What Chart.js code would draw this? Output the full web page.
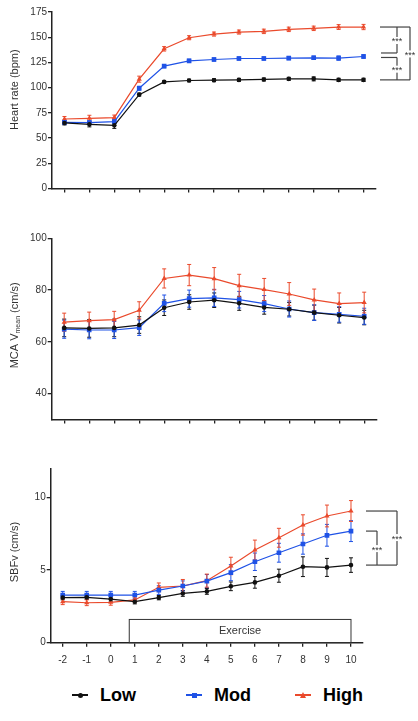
<!DOCTYPE html>
<html>
<head>
<meta charset="utf-8">
<script src="https://cdn.jsdelivr.net/npm/chart.js@4.4.1/dist/chart.umd.min.js"></script>
<style>
  body { margin: 0; background: #fff; }
  #page { position: relative; width: 418px; height: 721px; font-family: "Liberation Sans", Arial, sans-serif; }
  .panel { position: absolute; left: 0; width: 418px; }
  .item { position: absolute; top: 684px; height: 22px; display: flex; align-items: center; }
  .swatch { position: relative; width: 16px; height: 2px; margin-right: 12px; }
  .swatch i { position: absolute; left: 50%; top: 50%; }
  .item b { font-size: 18px; color: #000; }
</style>
</head>
<body>
<div id="page">
  <div class="panel" style="top:0;height:200px"><canvas id="hr"></canvas></div>
  <div class="panel" style="top:210px;height:220px"><canvas id="mca"></canvas></div>
  <div class="panel" style="top:440px;height:235px"><canvas id="sbf"></canvas></div>

  <div class="item" style="left:72px">
    <span class="swatch" style="background:#111"><i style="width:5px;height:5px;margin:-2.5px 0 0 -2.5px;border-radius:50%;background:#111"></i></span><b>Low</b>
  </div>
  <div class="item" style="left:186px">
    <span class="swatch" style="background:#1f52e6"><i style="width:5px;height:5px;margin:-2.5px 0 0 -2.5px;background:#1f52e6"></i></span><b>Mod</b>
  </div>
  <div class="item" style="left:295px">
    <span class="swatch" style="background:#ea4a2c"><i style="width:0;height:0;margin:-3.5px 0 0 -3.5px;border-left:3.5px solid transparent;border-right:3.5px solid transparent;border-bottom:6px solid #ea4a2c"></i></span><b>High</b>
  </div>
</div>
<script>
// time points (min)
var timeLabels = ['-2', '-1', '0', '1', '2', '3', '4', '5', '6', '7', '8', '9', '10'];

// heart rate (bpm)
var hrLow = [65, 63.6, 62.6, 93.1, 105.7, 107.1, 107.4, 107.7, 108.1, 108.7, 108.7, 107.7, 107.7];
var hrMod = [65.6, 65.3, 66.3, 99.4, 121.3, 126.6, 127.9, 128.9, 128.9, 129.3, 129.6, 129.3, 130.9];
var hrHigh = [68.9, 69.6, 70.3, 108.4, 138.5, 149.5, 153.1, 155.1, 155.8, 157.8, 158.8, 160.1, 160.1];
var hrLowErr = [2, 2.5, 3, 1.5, 1, 1.3, 1.5, 1.5, 1.5, 1.5, 2, 1.6, 1.6];
var hrModErr = [2.2, 2, 2, 2, 1.6, 1.6, 1.6, 1.6, 1.6, 1.6, 1.7, 2.1, 1.8];
var hrHighErr = [2.5, 3, 2.5, 3, 2.2, 2, 2, 2, 2.2, 2.2, 2.2, 2.4, 2.6];
var hrTicks = [0, 25, 50, 75, 100, 125, 150, 175];

// MCA Vmean (cm/s)
var mcaLow = [65.4, 65.2, 65.4, 66.5, 73.2, 75.4, 76.1, 74.9, 73.3, 72.6, 71.3, 70.3, 69.4];
var mcaMod = [64.9, 64.6, 64.6, 65.5, 74.9, 76.7, 77.0, 76.3, 74.8, 72.7, 71.3, 70.6, 69.9];
var mcaHigh = [67.6, 68.2, 68.6, 72.2, 84.5, 85.8, 84.4, 81.7, 80.2, 78.5, 76.2, 74.8, 75.2];
var mcaLowErr = [3.4, 3.4, 3.4, 3.2, 3.0, 2.8, 2.8, 2.7, 2.6, 2.6, 2.9, 3.0, 2.8];
var mcaModErr = [3.5, 3.4, 3.3, 3.0, 3.2, 3.3, 3.3, 3.2, 3.1, 3.1, 3.0, 3.0, 3.1];
var mcaHighErr = [3.5, 3.3, 3.2, 3.3, 3.7, 4.1, 4.3, 4.4, 4.3, 4.4, 4.2, 4.1, 4.0];
var mcaTicks = [40, 60, 80, 100];

// SBFv (cm/s)
var sbfLow = [3.10, 3.12, 3.00, 2.82, 3.10, 3.39, 3.53, 3.88, 4.15, 4.61, 5.23, 5.18, 5.34];
var sbfMod = [3.28, 3.28, 3.28, 3.28, 3.62, 3.90, 4.24, 4.82, 5.57, 6.19, 6.79, 7.39, 7.68];
var sbfHigh = [2.82, 2.75, 2.78, 2.94, 3.81, 3.90, 4.27, 5.28, 6.38, 7.22, 8.10, 8.72, 9.06];
var sbfLowErr = [0.15, 0.15, 0.15, 0.15, 0.15, 0.2, 0.2, 0.3, 0.4, 0.45, 0.68, 0.62, 0.5];
var sbfModErr = [0.25, 0.25, 0.25, 0.25, 0.3, 0.35, 0.45, 0.55, 0.6, 0.65, 0.7, 0.75, 0.72];
var sbfHighErr = [0.2, 0.2, 0.2, 0.15, 0.3, 0.45, 0.45, 0.6, 0.68, 0.65, 0.7, 0.75, 0.72];
var sbfTicks = [0, 5, 10];

// exercise period (min) and box height (cm/s)
var exercisePeriod = [0.77, 10];
var exerciseTop = 1.6;

var FONT = '"Liberation Sans", Arial, sans-serif';
var INK = '#222';
var LOW = '#111', MOD = '#1f52e6', HIGH = '#ea4a2c';

function series(low, mod, high, lowErr, modErr, highErr) {
  return [
    { label: 'Low', data: low, errors: lowErr, borderColor: LOW, backgroundColor: LOW, pointStyle: 'circle', pointRadius: 2.3 },
    { label: 'Mod', data: mod, errors: modErr, borderColor: MOD, backgroundColor: MOD, pointStyle: 'rect', pointRadius: 3.3 },
    { label: 'High', data: high, errors: highErr, borderColor: HIGH, backgroundColor: HIGH, pointStyle: 'triangle', pointRadius: 3 }
  ].map(function (d) {
    d.borderWidth = 1.2;
    d.tension = 0;
    d.pointBorderWidth = 0;
    return d;
  });
}

// vertical SEM bars behind each line
var errorBars = {
  id: 'errorBars',
  beforeDatasetsDraw: function (chart) {
    var ctx = chart.ctx, y = chart.scales.y;
    ctx.save();
    chart.data.datasets.forEach(function (ds, i) {
      var meta = chart.getDatasetMeta(i);
      ctx.strokeStyle = ds.borderColor;
      ctx.lineWidth = 1;
      ds.data.forEach(function (v, j) {
        var x = meta.data[j].x;
        var t = y.getPixelForValue(v + ds.errors[j]);
        var b = y.getPixelForValue(v - ds.errors[j]);
        ctx.beginPath();
        ctx.moveTo(x, t); ctx.lineTo(x, b);
        ctx.moveTo(x - 2, t); ctx.lineTo(x + 2, t);
        ctx.moveTo(x - 2, b); ctx.lineTo(x + 2, b);
        ctx.stroke();
      });
    });
    ctx.restore();
  }
};

function axisTitle(parts, frac) {
  return {
    id: 'axisTitle',
    afterDraw: function (chart) {
      var ctx = chart.ctx, a = chart.chartArea;
      ctx.save();
      ctx.translate(15, a.top + (a.bottom - a.top) * frac);
      ctx.rotate(-Math.PI / 2);
      ctx.fillStyle = '#333';
      ctx.textBaseline = 'middle';
      var total = 0;
      parts.forEach(function (p) {
        ctx.font = p.size + 'px ' + FONT;
        total += ctx.measureText(p.text).width;
      });
      var x = -total / 2;
      parts.forEach(function (p) {
        ctx.font = p.size + 'px ' + FONT;
        ctx.fillText(p.text, x, p.dy || 0);
        x += ctx.measureText(p.text).width;
      });
      ctx.restore();
    }
  };
}

function stars(ctx, x, y) {
  ctx.fillStyle = '#fff';
  ctx.fillRect(x - 6, y - 4, 12, 7);
  ctx.fillStyle = '#333';
  ctx.font = '9px ' + FONT;
  ctx.textAlign = 'center';
  ctx.textBaseline = 'middle';
  ctx.fillText('***', x, y + 1);
}

function line(ctx, x1, y1, x2, y2) {
  ctx.beginPath();
  ctx.moveTo(x1, y1);
  ctx.lineTo(x2, y2);
  ctx.stroke();
}

// High vs Mod, Mod vs Low, High vs Low
var hrBrackets = {
  id: 'hrBrackets',
  afterDraw: function (chart) {
    var ctx = chart.ctx, R = chart.chartArea.right, y = chart.scales.y;
    var n = hrLow.length - 1;
    var top = y.getPixelForValue(hrHigh[n]);
    var mid = y.getPixelForValue(hrMod[n]);
    var bot = y.getPixelForValue(hrLow[n]);
    ctx.save();
    ctx.strokeStyle = '#444';
    ctx.lineWidth = 1.2;
    line(ctx, R + 4, top, R + 34, top);
    line(ctx, R + 4, bot, R + 34, bot);
    line(ctx, R + 34, top, R + 34, bot);
    line(ctx, R + 21, top, R + 21, mid - 3.5);
    line(ctx, R + 5, mid - 3.5, R + 21, mid - 3.5);
    line(ctx, R + 5, mid + 1, R + 21, mid + 1);
    line(ctx, R + 21, mid + 1, R + 21, bot);
    stars(ctx, R + 21, (top + mid - 3.5) / 2 + 1);
    stars(ctx, R + 21, (mid + 1 + bot) / 2 + 1);
    stars(ctx, R + 34, (top + bot) / 2 + 1);
    ctx.restore();
  }
};

var sbfBrackets = {
  id: 'sbfBrackets',
  afterDraw: function (chart) {
    var ctx = chart.ctx, R = chart.chartArea.right, y = chart.scales.y;
    var n = sbfLow.length - 1;
    var top = y.getPixelForValue(sbfHigh[n]);
    var mid = y.getPixelForValue(sbfMod[n]);
    var bot = y.getPixelForValue(sbfLow[n]);
    ctx.save();
    ctx.strokeStyle = '#444';
    ctx.lineWidth = 1.2;
    line(ctx, R + 3, top, R + 34, top);
    line(ctx, R + 3, bot, R + 34, bot);
    line(ctx, R + 34, top, R + 34, bot);
    line(ctx, R + 3, mid, R + 14, mid);
    line(ctx, R + 14, mid, R + 14, bot);
    stars(ctx, R + 14, (mid + bot) / 2 + 1);
    stars(ctx, R + 34, (top + bot) / 2);
    ctx.restore();
  }
};

var exerciseBox = {
  id: 'exerciseBox',
  beforeDatasetsDraw: function (chart) {
    var ctx = chart.ctx, x = chart.scales.x, y = chart.scales.y;
    var first = Number(timeLabels[0]);
    var l = x.getPixelForValue(exercisePeriod[0] - first);
    var r = x.getPixelForValue(exercisePeriod[1] - first);
    var t = y.getPixelForValue(exerciseTop);
    var b = y.getPixelForValue(0);
    ctx.save();
    ctx.strokeStyle = '#333';
    ctx.lineWidth = 1;
    ctx.strokeRect(l, t, r - l, b - t);
    ctx.fillStyle = '#333';
    ctx.font = '11px ' + FONT;
    ctx.textAlign = 'center';
    ctx.textBaseline = 'middle';
    ctx.fillText('Exercise', (l + r) / 2, (t + b) / 2);
    ctx.restore();
  }
};

function makeChart(id, datasets, yMin, yMax, ticks, opts, plugins) {
  return new Chart(document.getElementById(id), {
    type: 'line',
    data: { labels: timeLabels, datasets: datasets },
    options: {
      responsive: true,
      maintainAspectRatio: false,
      animation: false,
      layout: { padding: opts.padding },
      plugins: { legend: { display: false }, tooltip: { enabled: false } },
      scales: {
        x: {
          offset: true,
          grid: { drawOnChartArea: false, color: INK, lineWidth: 1.3, tickLength: 4 },
          border: { color: INK, width: 1.5 },
          ticks: { display: opts.xLabels, color: '#333', padding: 8, font: { size: 10, family: FONT }, maxRotation: 0, autoSkip: false },
          afterFit: function (s) { s.height = opts.xHeight; }
        },
        y: {
          min: yMin,
          max: yMax,
          grid: { drawOnChartArea: false, color: INK, lineWidth: 1.3, tickLength: 4 },
          border: { color: INK, width: 1.5 },
          ticks: { color: '#333', padding: 1, font: { size: 10, family: FONT } },
          afterBuildTicks: function (s) { s.ticks = ticks.map(function (v) { return { value: v }; }); },
          afterFit: function (s) { s.width = opts.yWidth; }
        }
      }
    },
    plugins: [errorBars].concat(plugins)
  });
}

makeChart('hr', series(hrLow, hrMod, hrHigh, hrLowErr, hrModErr, hrHighErr), 0, 175, hrTicks,
  { padding: { top: 12, right: 42, bottom: 5.5, left: 0 }, xHeight: 6, yWidth: 52, xLabels: false },
  [hrBrackets, axisTitle([{ text: 'Heart rate (bpm)', size: 11 }], 0.44)]);

makeChart('mca', series(mcaLow, mcaMod, mcaHigh, mcaLowErr, mcaModErr, mcaHighErr), 30, 100, mcaTicks,
  { padding: { top: 28.3, right: 41.3, bottom: 4.4, left: 0 }, xHeight: 6, yWidth: 51.7, xLabels: false },
  [axisTitle([{ text: 'MCA V', size: 11 }, { text: 'mean', size: 7, dy: 3 }, { text: ' (cm/s)', size: 11 }], 0.48)]);

makeChart('sbf', series(sbfLow, sbfMod, sbfHigh, sbfLowErr, sbfModErr, sbfHighErr), 0, 12, sbfTicks,
  { padding: { top: 28.3, right: 55, bottom: 7.3, left: 0 }, xHeight: 25, yWidth: 50.7, xLabels: true },
  [exerciseBox, sbfBrackets, axisTitle([{ text: 'SBFv (cm/s)', size: 11 }], 0.48)]);
</script>
</body>
</html>
